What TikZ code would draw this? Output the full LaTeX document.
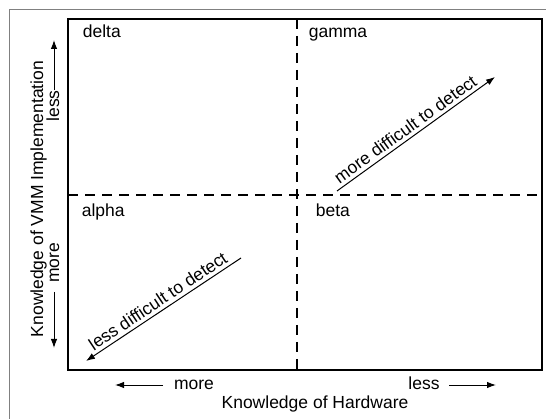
\documentclass[tikz,border=0pt]{standalone}
\usepackage{fontspec}
\setmainfont{Liberation Sans}
\usetikzlibrary{arrows.meta}

\begin{document}
\begin{tikzpicture}[x=1pt, y=-1pt, ->, >={Latex[length=9pt,width=6.5pt]}, line width=1pt,
    font=\fontsize{17.5}{20}\selectfont]
  \useasboundingbox (0,0) rectangle (546,419);

  % frame and quadrants
  \coordinate (f1) at (9,430);
  \coordinate (f2) at (9,9);
  \coordinate (f3) at (560,9);
  \coordinate (b1) at (68,19);
  \coordinate (b2) at (542,370);
  \coordinate (vtop) at (297,19);
  \coordinate (vbot) at (297,370);
  \coordinate (hl) at (68,195);
  \coordinate (hr) at (542,195);
  \draw[-, gray, line width=0.8pt] (f1) -- (f2) -- (f3);
  \draw[-, line width=1.3pt] (b1) rectangle (b2);
  \draw[-, line width=1.2pt, dash pattern=on 10pt off 7pt] (vtop) -- (vbot);
  \draw[-, line width=1.2pt, dash pattern=on 10pt off 7pt] (hl) -- (hr);

  \node[anchor=base west] (delta) at (79,38) {delta};
  \node[anchor=base west] (gamma) at (305,38) {gamma};
  \node[anchor=base west] (alpha) at (78,217) {alpha};
  \node[anchor=base west] (beta) at (312,217) {beta};

  % diagonals
  \coordinate (up1) at (337,191);
  \coordinate (up2) at (495,77);
  \coordinate (lo1) at (241,258);
  \coordinate (lo2) at (86,361);
  \draw (up1) -- node[sloped, above, pos=0.47] (harder) {more difficult to detect} (up2);
  \draw[<-] (lo2) -- node[sloped, above, pos=0.5] (easier) {less difficult to detect} (lo1);

  % axes
  \node[anchor=base] (hw) at (315,408) {Knowledge of Hardware};
  \node[anchor=base] (hwmore) at (194,389) {more};
  \node[anchor=base] (hwless) at (424,389) {less};
  \node[anchor=base, rotate=90] (vmm) at (43,199) {Knowledge of VMM Implementation};
  \node[anchor=base, rotate=90] (vmmless) at (59,106) {less};
  \node[anchor=base, rotate=90] (vmmmore) at (59,263) {more};

  \coordinate (hm1) at (163,385);
  \coordinate (hm2) at (115,385);
  \coordinate (hl1) at (449,385);
  \coordinate (hl2) at (496,385);
  \coordinate (vl1) at (54,90);
  \coordinate (vl2) at (54,40);
  \coordinate (vm1) at (54,292);
  \coordinate (vm2) at (54,348);
  \draw (hm1) -- (hm2);
  \draw (hl1) -- (hl2);
  \draw (vl1) -- (vl2);
  \draw (vm1) -- (vm2);
\end{tikzpicture}
\end{document}
